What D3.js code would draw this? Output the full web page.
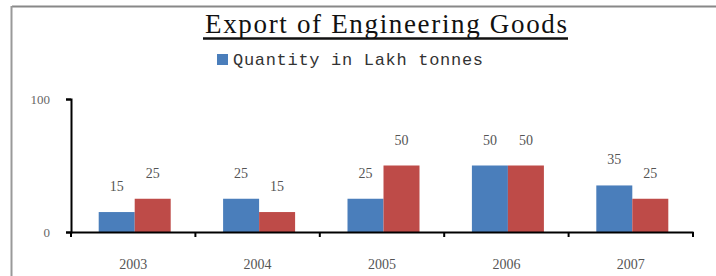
<!DOCTYPE html>
<html><head><meta charset="utf-8">
<script src="https://cdn.jsdelivr.net/npm/d3@7"></script>
<style>body{margin:0;background:#fff}svg{display:block}</style>
</head><body>
<script>
const years = ["2003","2004","2005","2006","2007"];
const quantity = [15,25,25,50,35];
const value = [25,15,50,50,25];
const yTicks = [0,100];
const title = "Export of Engineering Goods";
const legendLabel = "Quantity in Lakh tonnes";

const W=716,H=276;
const svg=d3.select("body").append("svg").attr("width",W).attr("height",H);
svg.append("rect").attr("width",W).attr("height",H).attr("fill","#fff");
// frame
svg.append("line").attr("x1",12).attr("x2",W).attr("y1",6.5).attr("y2",6.5).attr("stroke","#888").attr("stroke-width",2);
svg.append("line").attr("x1",11.5).attr("x2",11.5).attr("y1",6).attr("y2",H).attr("stroke","#999").attr("stroke-width",2);

const x=d3.scaleBand().domain(years).range([71,693]);
const y=d3.scaleLinear().domain([0,100]).range([232,99]);
const sub=d3.scaleBand().domain(["q","v"]).range([0,72]);
const off=(x.bandwidth()-72)/2+1.5;

const g=svg.append("g");
years.forEach((yr,i)=>{
  const x0=x(yr)+off;
  [["q",quantity[i],"#4a7ebb"],["v",value[i],"#be4b48"]].forEach(([k,v,c])=>{
    g.append("rect").attr("x",x0+sub(k)).attr("width",sub.bandwidth())
      .attr("y",y(v)).attr("height",y(0)-y(v)).attr("fill",c);
    g.append("text").attr("x",x0+sub(k)+sub.bandwidth()/2).attr("y",y(v)-21)
      .attr("text-anchor","middle").attr("font-family","Liberation Serif").attr("font-size",14)
      .attr("fill","#555").text(v);
  });
});

// axes
const ya=svg.append("g").attr("transform","translate(71,0)")
  .call(d3.axisLeft(y).tickValues(yTicks).tickSize(5).tickPadding(16));
ya.select(".domain").attr("stroke","#000").attr("stroke-width",2);
ya.selectAll(".tick line").attr("stroke","#000").attr("stroke-width",2);
ya.selectAll("text").attr("font-family","Liberation Serif").attr("font-size",13).attr("fill","#666");

const xa=svg.append("g").attr("transform","translate(0,232)")
  .call(d3.axisBottom(x).tickSize(0).tickPadding(27));
xa.select(".domain").attr("stroke","#000").attr("stroke-width",2);
xa.selectAll("text").attr("font-family","Liberation Serif").attr("font-size",14).attr("fill","#555");
const edges=years.map(d=>x(d)).concat([x.range()[1]]);
svg.append("g").selectAll("line").data(edges).join("line")
  .attr("x1",d=>d).attr("x2",d=>d).attr("y1",232).attr("y2",237).attr("stroke","#000").attr("stroke-width",2);

// title
svg.append("text").attr("x",205).attr("y",33)
  .attr("font-family","Liberation Serif").attr("font-size",27).attr("fill","#111")
  .attr("textLength",362).attr("lengthAdjust","spacing").text(title);
svg.append("line").attr("x1",203).attr("x2",568).attr("y1",38.5).attr("y2",38.5).attr("stroke","#111").attr("stroke-width",2.5);

// legend
svg.append("rect").attr("x",217).attr("y",54).attr("width",11).attr("height",11).attr("fill","#4a7ebb");
svg.append("text").attr("x",233).attr("y",65).attr("font-family","Liberation Mono").attr("font-size",17)
  .attr("fill","#333").attr("textLength",250).attr("lengthAdjust","spacing").text(legendLabel);
</script>
</body></html>
